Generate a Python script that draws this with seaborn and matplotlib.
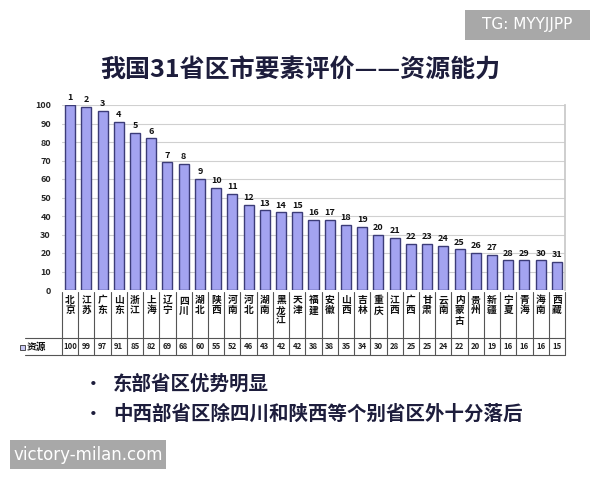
import matplotlib
matplotlib.use("Agg")
import matplotlib.pyplot as plt
import seaborn as sns
import pandas as pd
from matplotlib.patches import Rectangle

provinces = ["北京", "江苏", "广东", "山东", "浙江", "上海", "辽宁", "四川", "湖北", "陕西",
             "河南", "河北", "湖南", "黑龙江", "天津", "福建", "安徽", "山西", "吉林", "重庆",
             "江西", "广西", "甘肃", "云南", "内蒙古", "贵州", "新疆", "宁夏", "青海", "海南", "西藏"]
values = [100, 99, 97, 91, 85, 82, 69, 68, 60, 55, 52, 46, 43, 42, 42, 38, 38, 35, 34, 30,
          28, 25, 25, 24, 22, 20, 19, 16, 16, 16, 15]
ranks = list(range(1, 32))
yticks = list(range(0, 101, 10))
title = "我国31省区市要素评价——资源能力"
series_name = "资源"
bullets = ["东部省区优势明显", "中西部省区除四川和陕西等个别省区外十分落后"]

sns.set_theme(style="white")
plt.rcParams["font.family"] = ["Noto Sans CJK SC", "DejaVu Sans"]

df = pd.DataFrame({"省区": provinces, "资源": values})

W, H = 600, 480
fig = plt.figure(figsize=(6, 4.8), dpi=100)
fig.patch.set_facecolor("white")

def fx(px):
    return px / W

def fy(py):
    return 1 - py / H

left, right, top, bottom = 62, 565, 105, 290
ax = fig.add_axes([fx(left), fy(bottom), fx(right - left), (bottom - top) / H])
sns.barplot(data=df, x="省区", y="资源", order=provinces, ax=ax,
            color="#a3a3f0", edgecolor="#3c3c78", linewidth=1.0, width=0.62, saturation=1)
ax.set_xlim(-0.5, len(provinces) - 0.5)
ax.set_ylim(0, 100)
ax.set_yticks(yticks)
ax.set_yticklabels([str(t) for t in yticks], fontsize=6.5, fontweight="bold")
ax.tick_params(axis="y", length=0, pad=8)
ax.set_xticks([])
ax.set_xlabel("")
ax.set_ylabel("")
ax.yaxis.grid(True, color="#d0d0d0", linewidth=0.8)
ax.set_axisbelow(True)
for s in ["top", "left", "bottom"]:
    ax.spines[s].set_visible(False)
ax.spines["right"].set_color("#c8c8c8")

for i, (v, r) in enumerate(zip(values, ranks)):
    ax.text(i, v + 1.5, str(r), ha="center", va="bottom", fontsize=6.5,
            fontweight="bold", color="#111111", clip_on=False)

# table below the chart
tab_top, tab_mid, tab_bot = 292, 338, 355
axt = fig.add_axes([fx(left), fy(tab_bot), fx(right - left), (tab_bot - tab_top) / H])
axt.set_xlim(-0.5, len(provinces) - 0.5)
axt.set_ylim(tab_bot, tab_top)
axt.axis("off")
lc = "#555555"
n = len(provinces)
for i in range(n + 1):
    axt.plot([i - 0.5, i - 0.5], [tab_top, tab_bot], color=lc, lw=0.8, clip_on=False)
axt.plot([-0.5, n - 0.5], [tab_mid, tab_mid], color=lc, lw=0.8, clip_on=False)
axt.plot([-2.8, n - 0.5], [tab_bot, tab_bot], color=lc, lw=0.8, clip_on=False)
axt.plot([-2.8, -0.5], [tab_mid, tab_mid], color=lc, lw=0.8, clip_on=False)
for i, (name, v) in enumerate(zip(provinces, values)):
    axt.text(i, tab_top + 3, "\n".join(name), ha="center", va="top", fontsize=7,
             fontweight="bold", linespacing=1.05, color="#111111")
    axt.text(i, (tab_mid + tab_bot) / 2, str(v), ha="center", va="center",
             fontsize=5.6, fontweight="bold", color="#222222")
fig.patches.append(Rectangle((fx(20), fy(350)), fx(5), 5 / H, transform=fig.transFigure,
                             facecolor="#c8c8f4", edgecolor="#333333", lw=0.6))
fig.text(fx(27), fy(347), series_name, ha="left", va="center", fontsize=7,
         fontweight="bold", color="#111111")

fig.text(0.5, fy(70), title, ha="center", va="center", fontsize=18,
         fontweight="bold", color="#1d1d3c")

for k, (b, yy) in enumerate(zip(bullets, [384, 414])):
    fig.text(fx(93), fy(yy), "•", ha="center", va="center", fontsize=12,
             color="#1d1d3c", fontweight="bold")
    fig.text(fx(113), fy(yy), b, ha="left", va="center", fontsize=14,
             fontweight="bold", color="#1d1d3c")

# watermark boxes
fig.patches.append(Rectangle((fx(465), fy(40)), fx(125), 30 / H, transform=fig.transFigure,
                             facecolor="#a8a8a8", edgecolor="none"))
fig.text(fx(527), fy(25), "TG: MYYJJPP", ha="center", va="center", fontsize=11,
         color="white", family=["DejaVu Sans"])
fig.patches.append(Rectangle((fx(10), fy(469)), fx(156), 29 / H, transform=fig.transFigure,
                             facecolor="#a8a8a8", edgecolor="none"))
fig.text(fx(88), fy(455), "victory-milan.com", ha="center", va="center", fontsize=12,
         color="white", family=["DejaVu Sans"])

fig.savefig("out.png", dpi=100, facecolor="white")
